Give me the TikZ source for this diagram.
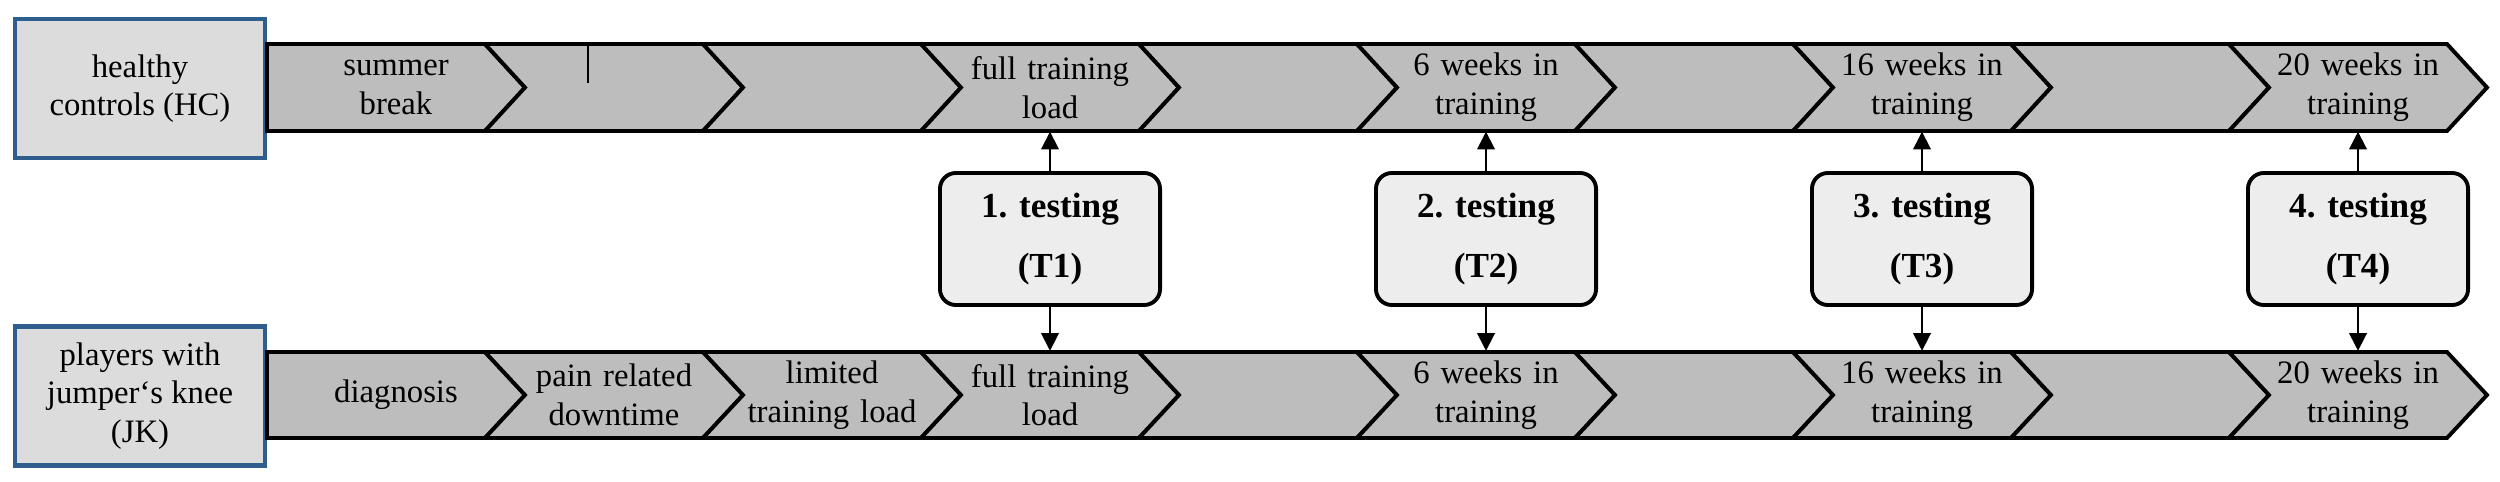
\documentclass[tikz,border=0pt]{standalone}
\usepackage{fontspec}
\setmainfont{Liberation Serif}
\usetikzlibrary{arrows.meta}

\definecolor{bandgray}{HTML}{BDBDBD}
\definecolor{boxgray}{HTML}{DCDCDC}
\definecolor{testgray}{HTML}{EDEDED}
\definecolor{groupblue}{HTML}{2E5E8E}

\tikzset{
  group/.style={draw=groupblue, line width=1.2pt, fill=boxgray, align=center,
    minimum width=2.5cm, minimum height=1.39cm, inner sep=0pt},
  phase/.style={align=center, text width=1.8cm, minimum height=0.87cm, inner sep=0pt},
  testbox/.style={draw, line width=1.1pt, fill=testgray, rounded corners=0.16cm,
    align=center, minimum width=2.2cm, minimum height=1.32cm, font=\bfseries},
  seg/.style={draw, line width=1.1pt, fill=bandgray, line join=miter},
  link/.style={-{Triangle[length=5pt,width=5pt]}, line width=0.5pt}
}

\begin{document}
\begin{tikzpicture}[x=0.01cm, y=-0.01cm, font=\fontsize{9.3}{11}\selectfont]
  \useasboundingbox (0,0) rectangle (2500,482);

  % group boxes
  \node[group] (hc) at (140,88.5) {healthy\\controls (HC)};
  \node[group] (jk) at (140,396) {players with\\jumper`s knee\\(JK)};

  % top band
  \foreach \k/\txt in {1/summer break, 2/, 3/, 4/full training\\load, 5/, 6/6 weeks in\\training, 7/, 8/16 weeks in\\training, 9/, 10/20 weeks in\\training}
  {
    \pgfmathsetmacro{\xa}{267+218*(\k-1)}
    \pgfmathsetmacro{\xb}{\xa+218}
    \ifnum\k=1
      \draw[seg] (\xa,44) -- (\xb,44) -- (\xb+40,87.5) -- (\xb,131) -- (\xa,131) -- cycle;
    \else
      \draw[seg] (\xa,44) -- (\xb,44) -- (\xb+40,87.5) -- (\xb,131) -- (\xa,131) -- (\xa+40,87.5) -- cycle;
    \fi
    \node[phase] (hc\k) at (\xa+129,87.5) {\txt};
  }
  \draw[line width=0.4pt] (588,42) -- (588,83);

  % bottom band
  \foreach \k/\txt in {1/diagnosis, 2/pain related\\downtime, 3/limited\\training load, 4/full training\\load, 5/, 6/6 weeks in\\training, 7/, 8/16 weeks in\\training, 9/, 10/20 weeks in\\training}
  {
    \pgfmathsetmacro{\xa}{267+218*(\k-1)}
    \pgfmathsetmacro{\xb}{\xa+218}
    \ifnum\k=1
      \draw[seg] (\xa,352) -- (\xb,352) -- (\xb+40,395) -- (\xb,438) -- (\xa,438) -- cycle;
    \else
      \draw[seg] (\xa,352) -- (\xb,352) -- (\xb+40,395) -- (\xb,438) -- (\xa,438) -- (\xa+40,395) -- cycle;
    \fi
    \node[phase] (jk\k) at (\xa+129,395) {\txt};
  }

  % testings
  \foreach \n/\k in {1/4, 2/6, 3/8, 4/10}
  {
    \pgfmathsetmacro{\xt}{267+218*(\k-1)+129}
    \node[testbox] (t\n) at (\xt,239) {\n. testing\\[5pt](T\n)};
    \draw[link] (t\n.north) -- (hc\k.south);
    \draw[link] (t\n.south) -- (jk\k.north);
  }
\end{tikzpicture}
\end{document}
